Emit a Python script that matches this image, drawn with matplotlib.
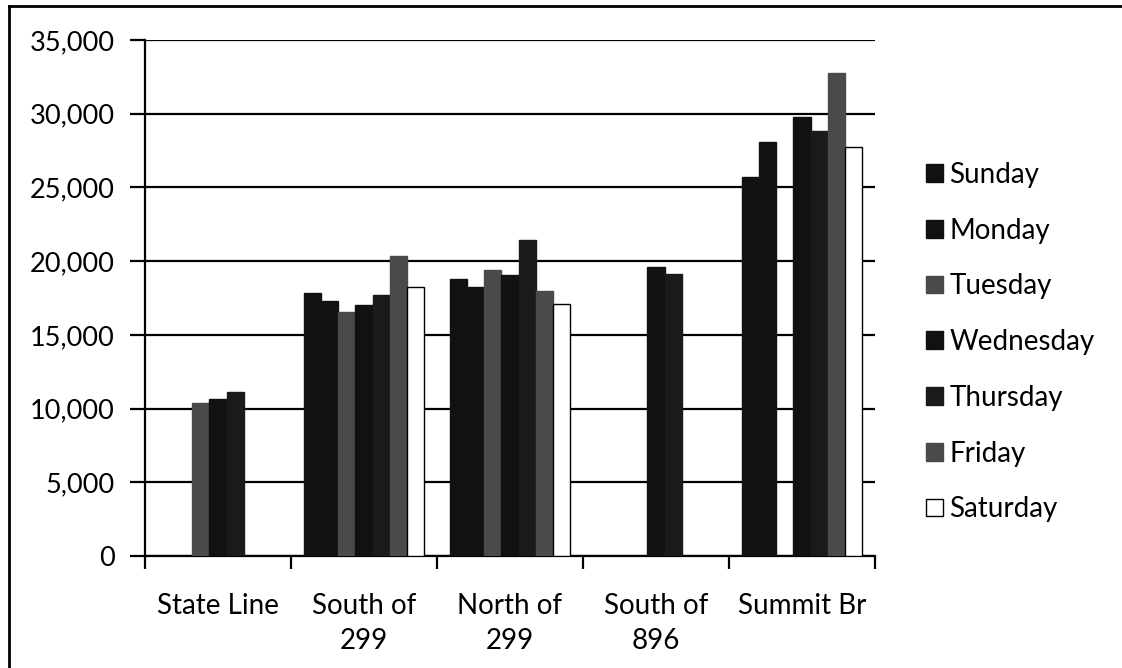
import numpy as np
import matplotlib
matplotlib.use("Agg")
import matplotlib.pyplot as plt
from matplotlib.patches import Patch
from matplotlib.lines import Line2D
from matplotlib.ticker import FuncFormatter

plt.rcParams['font.family'] = ['Lato', 'DejaVu Sans']

locations = ["State Line", "South of\n299", "North of\n299", "South of\n896", "Summit Br"]
days = ["Sunday", "Monday", "Tuesday", "Wednesday", "Thursday", "Friday", "Saturday"]

nan = np.nan
sunday    = [nan, 17820, 18770, nan, 25690]
monday    = [nan, 17320, 18270, nan, 28080]
tuesday   = [10380, 16570, 19400, nan, nan]
wednesday = [10650, 17030, 19080, 19580, 29800]
thursday  = [11120, 17700, 21430, 19130, 28850]
friday    = [nan, 20350, 18000, nan, 32780]
saturday  = [nan, 18270, 17070, nan, 27720]
series = [sunday, monday, tuesday, wednesday, thursday, friday, saturday]

face = ["#111111", "#111111", "#4a4a4a", "#111111", "#1a1a1a", "#4a4a4a", "white"]
edge = ["#111111", "#111111", "#4a4a4a", "#111111", "#1a1a1a", "#4a4a4a", "black"]

FS = 20
W, H = 1122, 668
fig = plt.figure(figsize=(W / 100, H / 100), dpi=100)
ax = fig.add_axes([145 / W, (H - 556) / H, (875 - 145) / W, (556 - 40) / H])

x = np.arange(len(locations))
w = 1 / 8.5
for i, vals in enumerate(series):
    ax.bar(x + (i - 3) * w, vals, width=w, color=face[i], edgecolor=edge[i],
           linewidth=1.0, label=days[i], zorder=3)

ax.set_xlim(-0.5, 4.5)
ax.set_ylim(0, 35000)
ax.set_yticks(np.arange(0, 35001, 5000))
ax.yaxis.set_major_formatter(FuncFormatter(lambda v, p: f"{int(v):,}"))
ax.yaxis.grid(True, color="black", linewidth=1.6, zorder=0)
ax.set_axisbelow(True)

ax.set_xticks(x)
ax.set_xticklabels(locations, linespacing=1.4)
ax.set_xticks(np.arange(-0.5, 5, 1), minor=True)
ax.tick_params(axis="x", which="major", length=0, pad=27, labelsize=FS)
ax.tick_params(axis="x", which="minor", length=9, width=1.6, direction="out")
ax.tick_params(axis="y", length=11, width=1.6, direction="out", pad=11, labelsize=19.5)

for s in ["top", "right"]:
    ax.spines[s].set_visible(False)
for s in ["left", "bottom"]:
    ax.spines[s].set_linewidth(1.6)

handles = [Patch(facecolor=face[i], edgecolor=edge[i], label=days[i]) for i in range(len(days))]
fig.legend(handles=handles, loc="upper left", bbox_to_anchor=(912 / W, 1 - 148 / H),
           frameon=False, fontsize=FS, handlelength=0.6, handleheight=0.6,
           handletextpad=0.25, labelspacing=1.07, borderpad=0)

# outer chart border
fig.add_artist(Line2D([9 / W, 1.0], [1 - 6 / H, 1 - 6 / H], color="black", linewidth=2))
fig.add_artist(Line2D([9 / W, 9 / W], [0, 1 - 6 / H], color="black", linewidth=2))

fig.savefig("out.png", dpi=100, facecolor="white")
